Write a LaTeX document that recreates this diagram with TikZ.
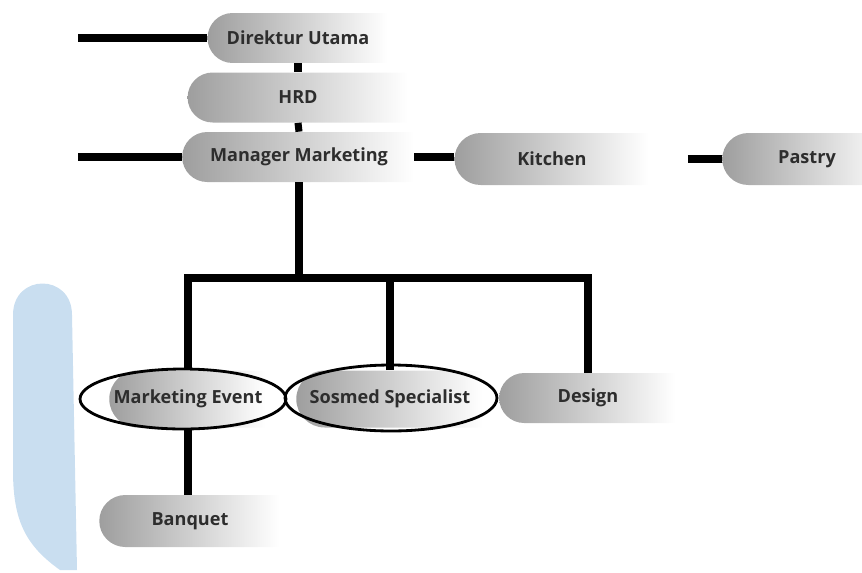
\documentclass[tikz,border=0pt]{standalone}
\usepackage{fontspec}
\setmainfont{Open Sans}
\usetikzlibrary{shapes.misc}
\definecolor{barblue}{RGB}{201,222,240}
\definecolor{boxtext}{RGB}{45,45,45}

\begin{document}
\begin{tikzpicture}[x=0.02cm, y=-0.02cm,
        unit/.style={rounded rectangle, rounded rectangle right arc=none, left color=black!38, right color=white, minimum height=1cm, inner sep=0pt, text=boxtext, font=\bfseries\fontsize{10.3}{12}\selectfont},
        link/.style={line width=4pt},
        ring/.style={line width=1.6pt}]
        \useasboundingbox (0,0) rectangle (862,572);
        \fill [barblue] (13,315) .. controls (13,273) and (72,273) .. (72,315) -- (77,570) -- (60,570) .. controls (25,545) and (13,520) .. (13,470) -- cycle;

        \node [unit, minimum width=3.6cm] (dir) at (298,38) {Direktur Utama};
        \node [unit, minimum width=4.4cm] (hrd) at (298,97.5) {HRD};
        \node [unit, minimum width=4.64cm] (mm) at (299,157) {Manager Marketing};
        \node [unit, minimum width=3.88cm, minimum height=1.04cm] (kit) at (552,159) {Kitchen};
        \node [unit, minimum width=3.36cm, minimum height=1.04cm] (pas) at (807,159) {Pastry};
        \node [unit, minimum width=3.12cm, minimum height=1.14cm] (me) at (188,399) {Marketing Event};
        \node [unit, minimum width=3.72cm, minimum height=1.14cm] (ss) at (390,399) {Sosmed Specialist};
        \node [unit, minimum width=3.52cm] (des) at (588,398) {Design};
        \node [unit, minimum width=3.6cm, minimum height=1.04cm] (ban) at (190,521) {Banquet};

        \coordinate (dirin) at (78,38);
        \coordinate (mmin) at (78,157);
        \coordinate (bus) at (299,278);

        \draw [link] (dirin) -- (dir.west);
        \draw [link] (dir.south) -- (hrd.north);
        \draw [link] (hrd.south) -- (mm.north);
        \draw [link] (mmin) -- (mm.west);
        \draw [link] (mm.east) -- (kit.west |- mm.east);
        \draw [link] ([xshift=0.78cm]kit.east) -- (pas.west);
        \draw [link] (mm.south) -- (bus);
        \draw [link] (me.north) |- (des.north |- bus) -- (des.north);
        \draw [link] (ss.north) -- (ss.north |- bus);
        \draw [link] (me.south) -- (me.south |- ban.north);

        \draw [ring] ([xshift=-0.1cm]me.center) ellipse [x radius=2.06cm, y radius=0.6cm];
        \draw [ring] ([xshift=0.02cm, yshift=0.02cm]ss.center) ellipse [x radius=2.12cm, y radius=0.66cm];
    \end{tikzpicture}
\end{document}
